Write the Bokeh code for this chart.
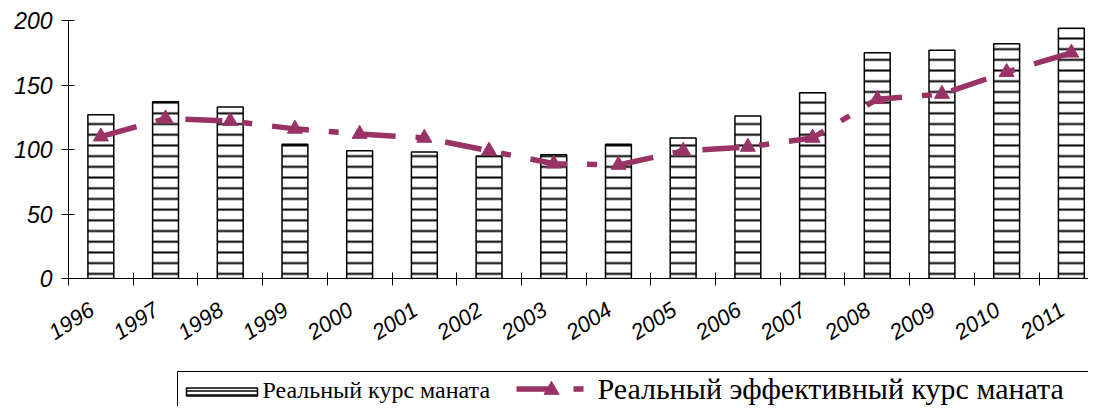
from bokeh.plotting import figure
from bokeh.models import Range1d, FixedTicker
from bokeh.layouts import column
from bokeh.core.properties import value
from bokeh.embed import file_html
from bokeh.resources import INLINE

years = [1996, 1997, 1998, 1999, 2000, 2001, 2002, 2003, 2004, 2005, 2006, 2007, 2008, 2009, 2010, 2011]
real_rate = [127, 137, 133, 104, 99, 98, 95, 96, 104, 109, 126, 144, 175, 177, 182, 194]
real_eff_rate = [110, 124, 122, 116, 112, 109, 99, 89, 88, 99, 102, 109, 139, 143, 160, 175]
bar_label = "Реальный курс маната"
line_label = "Реальный эффективный курс маната"
y_ticks = [0, 50, 100, 150, 200]

LINE_COLOR = "#993366"
AXIS_FONT = "Liberation Sans"
LEG_FONT = "Liberation Serif"

xs = list(range(len(years)))
label_pos = [i - 0.14 for i in xs]

p = figure(width=1088, height=368, output_backend="svg", toolbar_location=None, title=None,
           x_range=Range1d(-0.5, 15.265), y_range=Range1d(0, 200),
           min_border_left=68, min_border_right=0, min_border_top=20, min_border_bottom=90)
p.outline_line_color = None
p.grid.visible = False
p.background_fill_color = "white"
p.border_fill_color = "white"

p.vbar(x=xs, top=real_rate, width=0.40, fill_color="white", line_color="black", line_width=1.5,
       hatch_pattern="horizontal_line", hatch_scale=10.7, hatch_weight=2, hatch_color="black")
p.line(x=xs, y=real_eff_rate, line_color=LINE_COLOR, line_width=5.5, line_dash="37 20 10 20")
p.scatter(x=xs, y=real_eff_rate, marker="triangle", size=15, fill_color=LINE_COLOR,
          line_color=LINE_COLOR)

xa = p.xaxis[0]
xa.ticker = FixedTicker(ticks=label_pos, minor_ticks=[i - 0.5 for i in range(len(years) + 1)])
xa.major_label_overrides = {t: str(y) for t, y in zip(label_pos, years)}
xa.major_tick_line_color = None
xa.major_tick_in = 0
xa.major_tick_out = 0
xa.minor_tick_in = 6
xa.minor_tick_out = 7
xa.minor_tick_line_color = "black"
xa.major_label_orientation = 0.58
xa.major_label_text_font = AXIS_FONT
xa.major_label_text_font_size = "22px"
xa.major_label_text_font_style = "italic"
xa.major_label_text_color = "black"
xa.major_label_standoff = 22
xa.axis_line_color = "black"

ya = p.yaxis[0]
ya.ticker = FixedTicker(ticks=y_ticks, minor_ticks=[])
ya.major_tick_in = 6
ya.major_tick_out = 7
ya.major_tick_line_color = "black"
ya.minor_tick_line_color = None
ya.major_label_text_font = AXIS_FONT
ya.major_label_text_font_size = "23px"
ya.major_label_text_font_style = "italic"
ya.major_label_text_color = "black"
ya.major_label_standoff = 9
ya.axis_line_color = "black"

# legend panel: its frame is aligned with the chart frame (x 68..1088), data units = page pixels
lg = figure(width=1088, height=38, output_backend="svg", toolbar_location=None, title=None,
            x_range=Range1d(68, 1088), y_range=Range1d(406, 368),
            x_axis_location=None, y_axis_location=None,
            min_border_left=68, min_border_right=0, min_border_top=0, min_border_bottom=0)
lg.outline_line_color = None
lg.grid.visible = False
lg.background_fill_color = "white"
lg.border_fill_color = "white"

lg.quad(left=[177], right=[1300], top=[371], bottom=[460], fill_color=None, line_color="black", line_width=1)
lg.quad(left=[186], right=[257], top=[387.5], bottom=[395.5], fill_color="white", line_color="black",
        line_width=1.5, hatch_pattern="horizontal_line", hatch_scale=4, hatch_weight=1.5, hatch_color="black")
lg.text(x=[262], y=[389], text=[bar_label], text_font=value(LEG_FONT), text_font_size="24px",
        text_baseline="alphabetic", text_align="left", text_color="black")
lg.line(x=[516, 587], y=[388.5, 388.5], line_color=LINE_COLOR, line_width=5.5, line_dash="37 20 10 20")
lg.scatter(x=[551], y=[389.5], marker="triangle", size=15, fill_color=LINE_COLOR, line_color=LINE_COLOR)
lg.text(x=[597], y=[388], text=[line_label], text_font=value(LEG_FONT), text_font_size="30px",
        text_baseline="alphabetic", text_align="left", text_color="black")

layout = column(p, lg, spacing=0)
open("out.html", "w").write(file_html(layout, INLINE))
